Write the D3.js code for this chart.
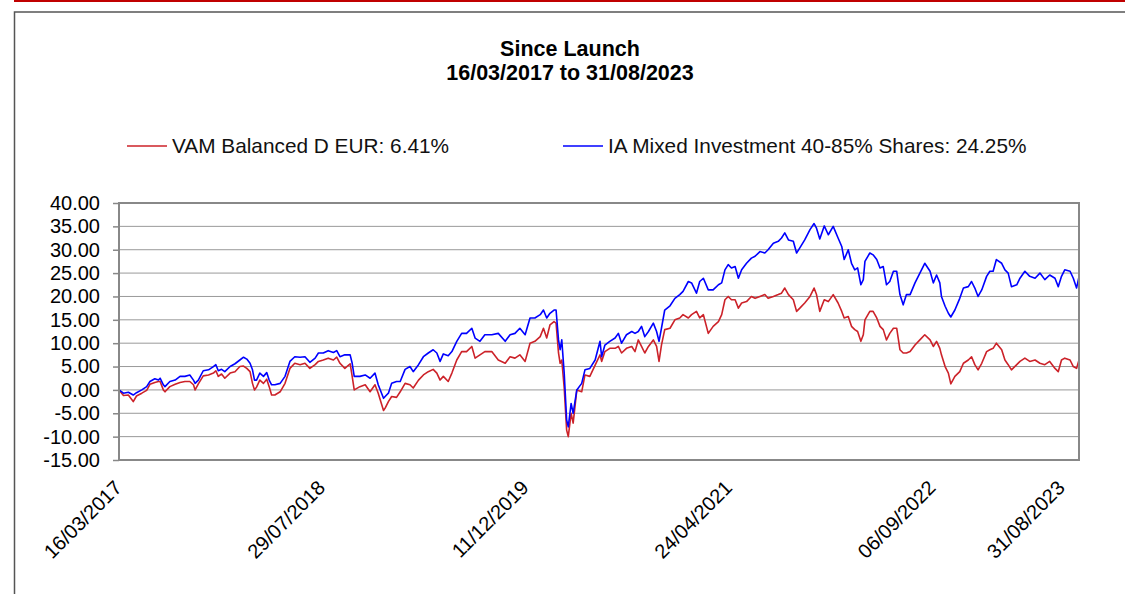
<!DOCTYPE html>
<html>
<head>
<meta charset="utf-8">
<script src="https://cdn.jsdelivr.net/npm/d3@7"></script>
<style>
  body { margin: 0; background: #fff; }
  svg { display: block; font-family: "Liberation Sans", Arial, sans-serif; }
</style>
</head>
<body>
<div id="chart"></div>
<script>
// Data (cumulative % return since launch)
const titleLines = ['Since Launch', '16/03/2017 to 31/08/2023'];
const seriesNames = ['VAM Balanced D EUR: 6.41%', 'IA Mixed Investment 40-85% Shares: 24.25%'];
const seriesColors = ['#cc2229', '#0000ff'];

const yTicks = [-15, -10, -5, 0, 5, 10, 15, 20, 25, 30, 35, 40];
// x ticks as days since launch (16/03/2017)
const xTickDays = [0, 500, 1000, 1500, 2000, 2359];
const xTickLabels = ['16/03/2017', '29/07/2018', '11/12/2019', '24/04/2021', '06/09/2022', '31/08/2023'];

// days since launch
const days = [
  0, 11, 23, 35, 43, 56, 68, 76, 88, 97, 101, 109, 113, 125, 138, 150, 162, 174, 183, 187,
  195, 207, 220, 232, 238, 244, 252, 260, 273, 285, 297, 306, 314, 322, 328, 333, 338, 346, 355, 363,
  369, 375, 383, 396, 408, 420, 432, 445, 457, 469, 482, 490, 502, 514, 527, 535, 543, 555, 568, 573,
  578, 592, 605, 617, 629, 637, 650, 654, 662, 670, 682, 691, 703, 715, 723, 736, 748, 760, 772, 781,
  789, 797, 809, 818, 830, 842, 854, 867, 875, 887, 899, 916, 932, 949, 961, 973, 985, 998, 1010, 1022,
  1035, 1043, 1051, 1059, 1069, 1074, 1080, 1084, 1088, 1094, 1100, 1104, 1111, 1116, 1125, 1137, 1145, 1157, 1170, 1182,
  1186, 1194, 1206, 1219, 1227, 1235, 1247, 1260, 1268, 1276, 1284, 1292, 1301, 1313, 1321, 1327, 1333, 1341, 1354, 1366,
  1378, 1386, 1399, 1407, 1419, 1427, 1436, 1448, 1460, 1473, 1481, 1489, 1497, 1505, 1514, 1522, 1530, 1542, 1554, 1563,
  1575, 1587, 1595, 1608, 1620, 1628, 1636, 1645, 1657, 1665, 1673, 1685, 1698, 1708, 1714, 1722, 1733, 1743, 1755, 1767,
  1776, 1782, 1792, 1800, 1808, 1815, 1823, 1829, 1833, 1845, 1853, 1862, 1870, 1878, 1886, 1894, 1903, 1911, 1919, 1927,
  1935, 1944, 1956, 1968, 1980, 1993, 2001, 2009, 2017, 2021, 2030, 2038, 2044, 2054, 2066, 2075, 2087, 2095, 2103, 2111,
  2120, 2132, 2140, 2148, 2156, 2169, 2177, 2185, 2193, 2206, 2214, 2226, 2238, 2251, 2263, 2275, 2287, 2300, 2308, 2316,
  2324, 2337, 2345, 2353, 2359
];

// VAM Balanced D EUR
const vam = [
  0, -1.2, -1.1, -2.5, -1.3, -0.7, -0.1, 1.2, 1.6, 1.8, 1.8, 0, -0.4, 0.7, 1.2, 1.6, 1.8, 1.8, 1.1, 0,
  1.3, 3.0, 3.2, 3.6, 4.1, 2.9, 3.4, 2.5, 3.6, 3.9, 5.0, 5.1, 4.6, 3.9, 1.4, 0, 0.6, 2.1, 1.4, 2.3,
  0.7, -1.1, -1.1, -0.4, 1.4, 4.6, 5.7, 5.4, 5.7, 4.6, 5.4, 6.1, 6.4, 6.8, 6.4, 7.0, 5.7, 4.6, 5.6, 2.9,
  0, 0.7, 1.1, -0.4, 1.1, -0.7, -4.4, -3.9, -2.5, -1.4, -1.6, -0.4, 1.4, 1.1, 0.4, 2.1, 3.2, 3.9, 4.4, 3.6,
  2.1, 2.9, 1.8, 3.6, 6.4, 8.2, 8.2, 9.3, 6.8, 7.5, 8.2, 8.2, 6.4, 5.7, 7.1, 6.8, 7.5, 6.1, 10.0, 10.4,
  11.4, 13.2, 11.1, 13.9, 14.6, 14.3, 7.9, 5.7, 6.4, 0.4, -8.6, -10.0, -5.0, -7.1, 0, -0.4, 3.2, 2.9, 5.3, 7.5,
  6.1, 8.2, 8.9, 8.9, 9.3, 7.9, 8.9, 9.3, 8.2, 10.7, 9.3, 7.9, 9.3, 10.7, 9.3, 6.1, 9.6, 12.9, 13.2, 15.0,
  15.4, 16.1, 15.4, 16.1, 16.8, 15.4, 16.1, 12.1, 13.6, 14.6, 16.1, 19.3, 20.0, 19.3, 19.3, 17.5, 18.6, 18.9, 20.0, 19.6,
  20.0, 20.4, 19.6, 20.0, 20.4, 20.7, 21.8, 20.4, 19.3, 16.8, 17.5, 18.6, 20.0, 21.8, 20.4, 16.8, 19.3, 18.9, 20.4, 18.6,
  16.8, 15.4, 15.7, 13.6, 12.9, 12.5, 10.4, 11.8, 15.0, 16.8, 16.8, 15.4, 13.6, 12.9, 10.7, 12.1, 13.2, 13.2, 8.6, 7.9,
  7.9, 8.2, 9.6, 10.7, 11.8, 10.7, 9.3, 10.4, 8.9, 7.5, 5.0, 3.6, 1.3, 2.9, 3.9, 5.7, 6.4, 7.1, 5.4, 4.3,
  5.7, 8.2, 8.6, 8.9, 10.0, 8.6, 6.4, 5.4, 4.3, 5.4, 6.1, 6.8, 6.1, 6.4, 5.7, 5.4, 6.1, 4.6, 3.9, 6.4,
  6.8, 6.4, 5.0, 4.6, 6.41
];

// IA Mixed Investment 40-85% Shares
const ia = [
  0, -0.7, -0.5, -1.1, -0.6, 0, 0.7, 1.8, 2.4, 2.1, 2.5, 1.1, 0.7, 1.8, 2.1, 2.9, 2.9, 3.2, 2.1, 1.4,
  2.1, 4.1, 4.3, 5.0, 5.4, 4.1, 4.4, 3.9, 5.0, 5.6, 6.4, 7.0, 6.6, 5.7, 4.3, 2.1, 2.1, 3.6, 2.9, 3.7,
  2.1, 1.1, 1.1, 1.4, 2.9, 6.1, 7.1, 7.0, 7.1, 5.9, 6.8, 7.9, 7.9, 8.4, 8.0, 8.4, 7.1, 7.5, 7.5, 5.7,
  2.9, 2.9, 3.2, 2.5, 3.6, 1.1, -1.8, -1.4, -0.7, 1.4, 1.8, 1.8, 4.4, 5.0, 3.9, 5.4, 7.1, 7.9, 8.6, 7.9,
  6.1, 7.7, 7.3, 8.2, 10.4, 12.1, 12.1, 13.2, 11.1, 10.4, 11.8, 11.8, 12.1, 10.4, 11.8, 12.1, 13.2, 11.8, 15.4, 15.4,
  16.1, 17.1, 15.4, 16.4, 17.1, 17.1, 10.7, 8.6, 10.7, 3.6, -6.4, -7.9, -2.9, -5.0, 0, 1.4, 4.3, 4.6, 6.4, 10.4,
  7.1, 9.6, 10.4, 11.1, 12.1, 10.0, 11.8, 12.5, 12.1, 12.5, 13.6, 11.4, 12.5, 14.3, 12.5, 10.4, 13.2, 17.1, 18.0, 19.6,
  20.4, 21.1, 23.2, 22.9, 20.7, 23.2, 23.9, 21.4, 21.4, 22.5, 22.9, 25.7, 26.8, 26.1, 26.4, 23.9, 25.7, 27.1, 28.2, 28.6,
  29.6, 29.3, 30.0, 31.4, 31.8, 32.5, 33.6, 32.1, 31.8, 29.3, 30.4, 32.1, 34.3, 35.6, 34.6, 32.3, 35.1, 33.2, 35.0, 32.5,
  30.7, 27.9, 30.0, 27.1, 25.7, 26.1, 22.5, 23.6, 27.5, 29.3, 28.9, 27.9, 26.1, 26.4, 22.5, 23.2, 25.4, 25.4, 20.4, 18.2,
  20.4, 20.4, 22.9, 25.0, 27.1, 25.4, 22.9, 24.6, 22.9, 20.0, 17.9, 16.4, 15.6, 17.1, 19.6, 21.8, 22.1, 23.2, 21.8, 20.0,
  21.4, 24.3, 25.4, 25.4, 27.9, 27.1, 25.7, 25.0, 22.1, 22.5, 23.9, 25.4, 24.3, 23.9, 25.0, 23.6, 24.6, 23.9, 22.1, 24.3,
  25.7, 25.4, 23.9, 21.8, 24.25
];

const width = 1125;
const height = 594;
const margin = { top: 203, right: 46, bottom: 134, left: 119 };
const plotW = width - margin.left - margin.right;
const plotH = height - margin.top - margin.bottom;

// Container
const svg = d3.select('#chart')
  .append('svg')
  .attr('width', width)
  .attr('height', height);

// red rule along the top and the chart frame
svg.append('rect')
  .attr('x', 14).attr('y', 0)
  .attr('width', width - 14).attr('height', 2)
  .attr('fill', '#c00000');

svg.append('path')
  .attr('d', `M14.5,${height} V12 H${width}`)
  .attr('fill', 'none')
  .attr('stroke', '#555')
  .attr('stroke-width', 1.5);

// Title
svg.append('g')
  .selectAll('text')
  .data(titleLines)
  .join('text')
  .attr('x', 570)
  .attr('y', (d, i) => 56 + i * 24)
  .attr('text-anchor', 'middle')
  .attr('font-weight', 'bold')
  .attr('font-size', 21.5)
  .attr('fill', '#000')
  .text(d => d);

// Scales
const x = d3.scaleLinear()
  .domain([0, d3.max(xTickDays)])
  .range([0, plotW]);

const y = d3.scaleLinear()
  .domain([d3.min(yTicks), d3.max(yTicks)])
  .range([plotH, 0]);

const plot = svg.append('g')
  .attr('transform', `translate(${margin.left},${margin.top})`);

// Gridlines
plot.append('g')
  .selectAll('line')
  .data(yTicks.slice(1, -1))
  .join('line')
  .attr('x1', 0).attr('x2', plotW)
  .attr('y1', d => y(d)).attr('y2', d => y(d))
  .attr('stroke', '#999')
  .attr('stroke-width', 1);

// Y axis - plain hyphen for negatives, like the original
const yAxis = plot.append('g')
  .call(d3.axisLeft(y).tickValues(yTicks).tickSize(6).tickPadding(13).tickFormat(d => d.toFixed(2)));
yAxis.select('.domain').remove();
yAxis.selectAll('.tick line').attr('stroke', '#888').attr('stroke-width', 1.5);
yAxis.selectAll('.tick text')
  .attr('font-family', '"Liberation Sans", Arial, sans-serif')
  .attr('font-size', 20)
  .attr('fill', '#000');

// X axis labels, rotated
const xAxis = plot.append('g')
  .attr('transform', `translate(0,${plotH})`);

xAxis.selectAll('text')
  .data(xTickDays)
  .join('text')
  .attr('transform', (d, i) => {
    const tx = i === xTickDays.length - 1 ? x(d) - 13 : x(d) + 4;
    return `translate(${tx},29) rotate(-45)`;
  })
  .attr('text-anchor', 'end')
  .attr('font-size', 20)
  .attr('fill', '#000')
  .text((d, i) => xTickLabels[i]);

// Lines
const series = [vam, ia];
const line = d3.line()
  .x((d, i) => x(days[i]))
  .y(d => y(d));

plot.append('g')
  .selectAll('path')
  .data(series)
  .join('path')
  .attr('d', d => line(d))
  .attr('fill', 'none')
  .attr('stroke', (d, i) => seriesColors[i])
  .attr('stroke-width', 1.6)
  .attr('stroke-linejoin', 'round');

// Plot border
plot.append('rect')
  .attr('width', plotW)
  .attr('height', plotH)
  .attr('fill', 'none')
  .attr('stroke', '#888')
  .attr('stroke-width', 2);

// Legend
const legendX = [127, 563];
const legend = svg.append('g')
  .selectAll('g')
  .data(seriesNames)
  .join('g')
  .attr('transform', (d, i) => `translate(${legendX[i]},146)`);

legend.append('line')
  .attr('x1', 0).attr('x2', 40)
  .attr('stroke', (d, i) => seriesColors[i])
  .attr('stroke-width', 1.6);

legend.append('text')
  .attr('x', 45)
  .attr('y', 7)
  .attr('font-size', 20.8)
  .attr('fill', '#111')
  .text(d => d);
</script>
</body>
</html>
